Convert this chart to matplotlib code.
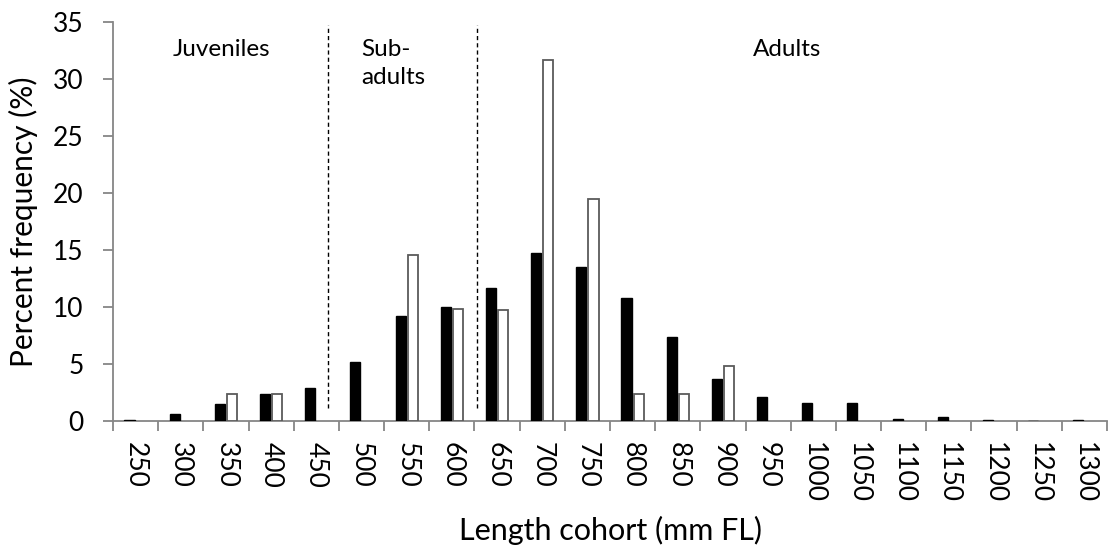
import matplotlib
matplotlib.use("Agg")
import matplotlib.pyplot as plt
import numpy as np

plt.rcParams['font.family'] = ['Lato', 'DejaVu Sans']

# Length cohorts (mm FL)
cohorts = ['250', '300', '350', '400', '450', '500', '550', '600', '650', '700', '750',
           '800', '850', '900', '950', '1000', '1050', '1100', '1150', '1200', '1250', '1300']

# Percent frequency per cohort for the two samples
freq_filled = [0.1, 0.6, 1.5, 2.4, 2.9, 5.2, 9.2, 10.0, 11.7, 14.7, 13.5,
               10.8, 7.4, 3.7, 2.1, 1.6, 1.6, 0.2, 0.35, 0.1, 0.0, 0.1]
freq_open = [0.0, 0.0, 2.4, 2.4, 0.0, 0.0, 14.6, 9.8, 9.7, 31.7, 19.5,
             2.35, 2.35, 4.8, 0.0, 0.0, 0.0, 0.0, 0.0, 0.0, 0.0, 0.0]

# Life-stage groups and the dashed dividers between them
stage_labels = ['Juveniles', 'Sub-\nadults', 'Adults']
dividers = [4.25, 7.55]

fig = plt.figure(figsize=(11.09, 5.49), dpi=100)
ax = fig.add_axes([0.1019, 0.2332, 0.8963, 0.7267])

x = np.arange(len(cohorts))
w = 0.225
off = 0.135
ax.bar(x - off, freq_filled, width=w, color='black', edgecolor='black', linewidth=1.0, zorder=3)
# empty cohorts are left out of the open series so no outline is drawn on the axis
open_vals = np.array(freq_open, dtype=float)
open_vals[open_vals == 0] = np.nan
ax.bar(x + off, open_vals, width=w, color='white', edgecolor='#5a5a5a', linewidth=1.3, zorder=3)

ax.set_xlim(-0.5, len(cohorts) - 0.5)
ax.set_ylim(0, 35)

spine_col = '#868686'
for s in ['top', 'right']:
    ax.spines[s].set_visible(False)
for s in ['left', 'bottom']:
    ax.spines[s].set_color(spine_col)
    ax.spines[s].set_linewidth(1.3)

ax.set_yticks(np.arange(0, 36, 5))
ax.tick_params(axis='y', direction='out', length=7, width=1.3, color=spine_col,
               labelsize=19, pad=14, labelcolor='black')

ax.set_xticks(x)
ax.set_xticklabels(cohorts, rotation=-90, fontsize=19)
ax.tick_params(axis='x', which='major', length=0, pad=15)
ax.set_xticks(np.arange(-0.5, len(cohorts), 1.0), minor=True)
ax.tick_params(axis='x', which='minor', direction='out', length=7, width=1.3, color=spine_col)

for d in dividers:
    ax.vlines(d, 1.1, 34.7, colors='black', linestyles=(0, (3, 2.2)), linewidth=1.0, zorder=2)

ax.text(1.91, 32.6, stage_labels[0], ha='center', va='center', fontsize=17.5)
ax.text(5.0, 33.5, stage_labels[1], ha='left', va='top', fontsize=17.5, linespacing=1.4)
ax.text(14.42, 32.6, stage_labels[2], ha='center', va='center', fontsize=17.5)

ax.set_ylabel('Percent frequency (%)', fontsize=21.5)
ax.yaxis.set_label_coords(-0.0755, 0.5)
ax.set_xlabel('Length cohort (mm FL)', fontsize=22)
ax.xaxis.set_label_coords(0.5, -0.238)

fig.savefig('out.png', dpi=100)
